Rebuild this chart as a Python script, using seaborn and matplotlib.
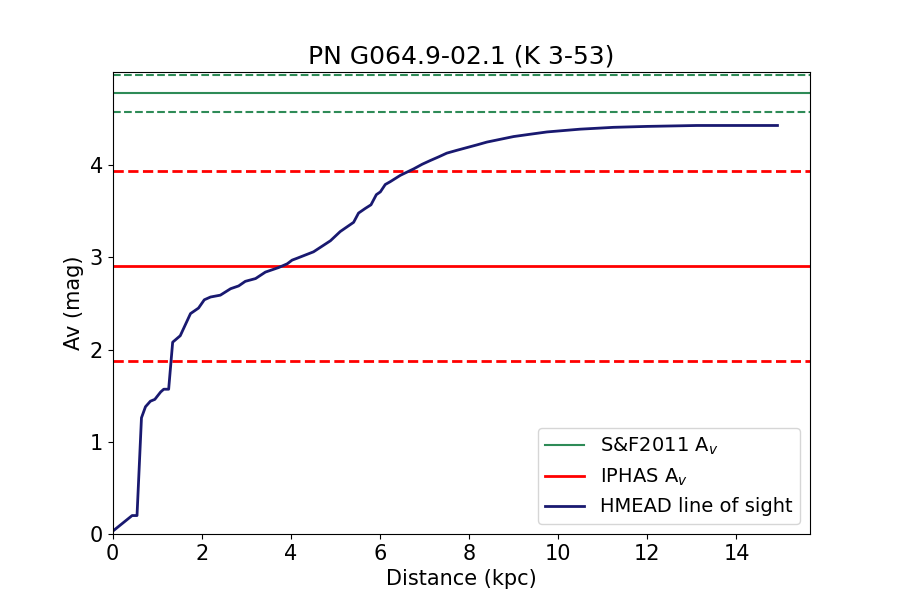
import pandas as pd
import matplotlib
matplotlib.use('Agg')
import matplotlib.pyplot as plt
import seaborn as sns

# keep matplotlib's classic look (black text, short ticks)
sns.reset_orig()
plt.rcParams['font.family'] = ['DejaVu Sans']

# HMEAD line of sight (distance in kpc, Av in mag)
distance = [0.03, 0.44, 0.55, 0.65, 0.74, 0.85, 0.95, 1.08, 1.15, 1.26, 1.35, 1.52,
            1.75, 1.93, 2.06, 2.20, 2.42, 2.65, 2.83, 2.98, 3.21, 3.43, 3.73, 3.92,
            4.03, 4.14, 4.51, 4.89, 5.11, 5.41, 5.52, 5.67, 5.80, 5.92, 6.01, 6.12,
            6.23, 6.46, 6.76, 6.95, 7.13, 7.32, 7.50, 7.72, 7.95, 8.18, 8.40, 8.70,
            9.00, 9.37, 9.75, 10.12, 10.49, 10.87, 11.24, 11.62, 11.99, 12.55,
            13.11, 14.00, 14.92]
av_los = [0.04, 0.20, 0.20, 1.26, 1.38, 1.44, 1.46, 1.54, 1.57, 1.57, 2.08, 2.15,
          2.39, 2.45, 2.54, 2.57, 2.59, 2.66, 2.69, 2.74, 2.77, 2.84, 2.89, 2.93,
          2.97, 2.99, 3.06, 3.18, 3.28, 3.38, 3.48, 3.53, 3.57, 3.68, 3.71, 3.79,
          3.82, 3.89, 3.96, 4.01, 4.05, 4.09, 4.13, 4.16, 4.19, 4.22, 4.25, 4.28,
          4.31, 4.335, 4.36, 4.375, 4.39, 4.40, 4.41, 4.415, 4.42, 4.425,
          4.43, 4.43, 4.43]

# reference extinctions: value and uncertainty
sf2011_av, sf2011_err = 4.78, 0.20
iphas_av, iphas_err = 2.91, 1.03

df = pd.DataFrame({'distance': distance, 'av': av_los})

fig, ax = plt.subplots(figsize=(9, 6), dpi=100)

ax.axhline(sf2011_av, color='seagreen', lw=1.5, label='S&F2011 A$_v$')
ax.axhline(sf2011_av + sf2011_err, color='seagreen', lw=1.5, ls='--')
ax.axhline(sf2011_av - sf2011_err, color='seagreen', lw=1.5, ls='--')

ax.axhline(iphas_av, color='red', lw=2, label='IPHAS A$_v$')
ax.axhline(iphas_av + iphas_err, color='red', lw=2, ls='--')
ax.axhline(iphas_av - iphas_err, color='red', lw=2, ls='--')

sns.lineplot(data=df, x='distance', y='av', color='midnightblue', lw=2,
             label='HMEAD line of sight', ax=ax)

ax.set_xlim(0, 15.65)
ax.set_ylim(0, 5.01)
ax.set_xticks(range(0, 15, 2))
ax.set_yticks(range(0, 5))
ax.tick_params(labelsize=15)
ax.set_xlabel('Distance (kpc)', fontsize=15)
ax.set_ylabel('Av (mag)', fontsize=15)
ax.set_title('PN G064.9-02.1 (K 3-53)', fontsize=18)
ax.legend(loc='lower right', fontsize=14)

fig.subplots_adjust(left=0.125, right=0.9, bottom=0.11, top=0.88)
plt.savefig('out.png', dpi=100)
plt.close()
